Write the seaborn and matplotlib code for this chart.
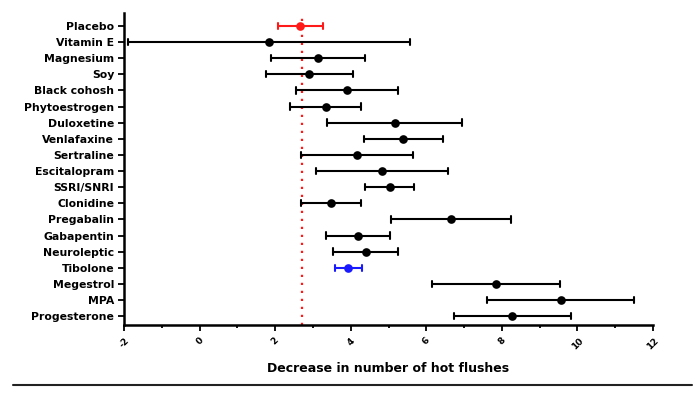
import matplotlib
matplotlib.use("Agg")
import matplotlib.pyplot as plt
from matplotlib.lines import Line2D
from matplotlib.ticker import MultipleLocator
import seaborn as sns
import pandas as pd

drugs = ["Placebo", "Vitamin E", "Magnesium", "Soy", "Black cohosh", "Phytoestrogen",
         "Duloxetine", "Venlafaxine", "Sertraline", "Escitalopram", "SSRI/SNRI",
         "Clonidine", "Pregabalin", "Gabapentin", "Neuroleptic", "Tibolone",
         "Megestrol", "MPA", "Progesterone"]
mean = [2.67, 1.85, 3.14, 2.90, 3.89, 3.35, 5.16, 5.39, 4.17, 4.83, 5.03,
        3.47, 6.65, 4.20, 4.40, 3.94, 7.84, 9.56, 8.28]
lower = [2.07, -1.89, 1.89, 1.76, 2.55, 2.39, 3.37, 4.35, 2.68, 3.08, 4.39,
         2.68, 5.06, 3.35, 3.54, 3.58, 6.15, 7.62, 6.73]
upper = [3.26, 5.58, 4.39, 4.05, 5.25, 4.27, 6.95, 6.43, 5.66, 6.57, 5.67,
         4.27, 8.24, 5.05, 5.25, 4.30, 9.55, 11.51, 9.82]
placebo_line = 2.7
x_ticks = [-2, 0, 2, 4, 6, 8, 10, 12]
x_label = "Decrease in number of hot flushes"

colors = {d: "black" for d in drugs}
colors["Placebo"] = "#ff1a1a"
colors["Tibolone"] = "#1a1aff"

rows = []
for d, lo, m, hi in zip(drugs, lower, mean, upper):
    for v in (lo, m, hi):
        rows.append({"drug": d, "value": v})
df = pd.DataFrame(rows)

sns.set_style("white")
plt.rcParams["font.family"] = ["DejaVu Sans"]
plt.rcParams["text.color"] = "black"
plt.rcParams["axes.labelcolor"] = "black"
plt.rcParams["xtick.color"] = "black"
plt.rcParams["ytick.color"] = "black"

fig = plt.figure(figsize=(7, 3.96), dpi=100)
ax = fig.add_axes([124 / 700, 1 - 325 / 396, (653 - 124) / 700, (325 - 13) / 396])

ax.axvline(placebo_line, color="#ff1a1a", lw=1.6, linestyle=(0, (1, 2.6)), zorder=0)

sns.pointplot(data=df, x="value", y="drug", hue="drug", palette=colors, order=drugs,
              hue_order=drugs, estimator="median",
              errorbar=lambda v: (v.min(), v.max()),
              linestyle="none", markers="o", markersize=4.2, capsize=0.4,
              err_kws={"linewidth": 1.5}, legend=False, ax=ax, zorder=3)

ax.set_xlim(-2, 12)
ax.set_ylim(18.55, -0.8)
ax.set_xticks(x_ticks)
ax.xaxis.set_minor_locator(MultipleLocator(1))
ax.set_xticklabels([str(t) for t in x_ticks], rotation=45, fontsize=6.5, fontweight="bold",
                   ha="center", va="top", color="black")
ax.set_yticks(range(len(drugs)))
ax.set_yticklabels(drugs, fontsize=7.8, fontweight="bold", color="black")
ax.set_ylabel("")
ax.set_xlabel(x_label, fontsize=9, fontweight="bold", labelpad=8, color="black")

for s in ["top", "right"]:
    ax.spines[s].set_visible(False)
for s in ["left", "bottom"]:
    ax.spines[s].set_linewidth(1.8)
    ax.spines[s].set_color("black")
ax.tick_params(axis="x", which="major", direction="out", length=4, width=1.3,
               color="black", bottom=True, pad=4)
ax.tick_params(axis="x", which="minor", direction="out", length=2.5, width=1.3,
               color="black", bottom=True)
ax.tick_params(axis="y", direction="out", length=4, width=1.3, color="black", left=True, pad=3)

fig.add_artist(Line2D([13 / 700, 692 / 700], [1 - 385 / 396, 1 - 385 / 396],
                      color="#222222", lw=1.5, transform=fig.transFigure))

fig.savefig("out.png", dpi=100)
